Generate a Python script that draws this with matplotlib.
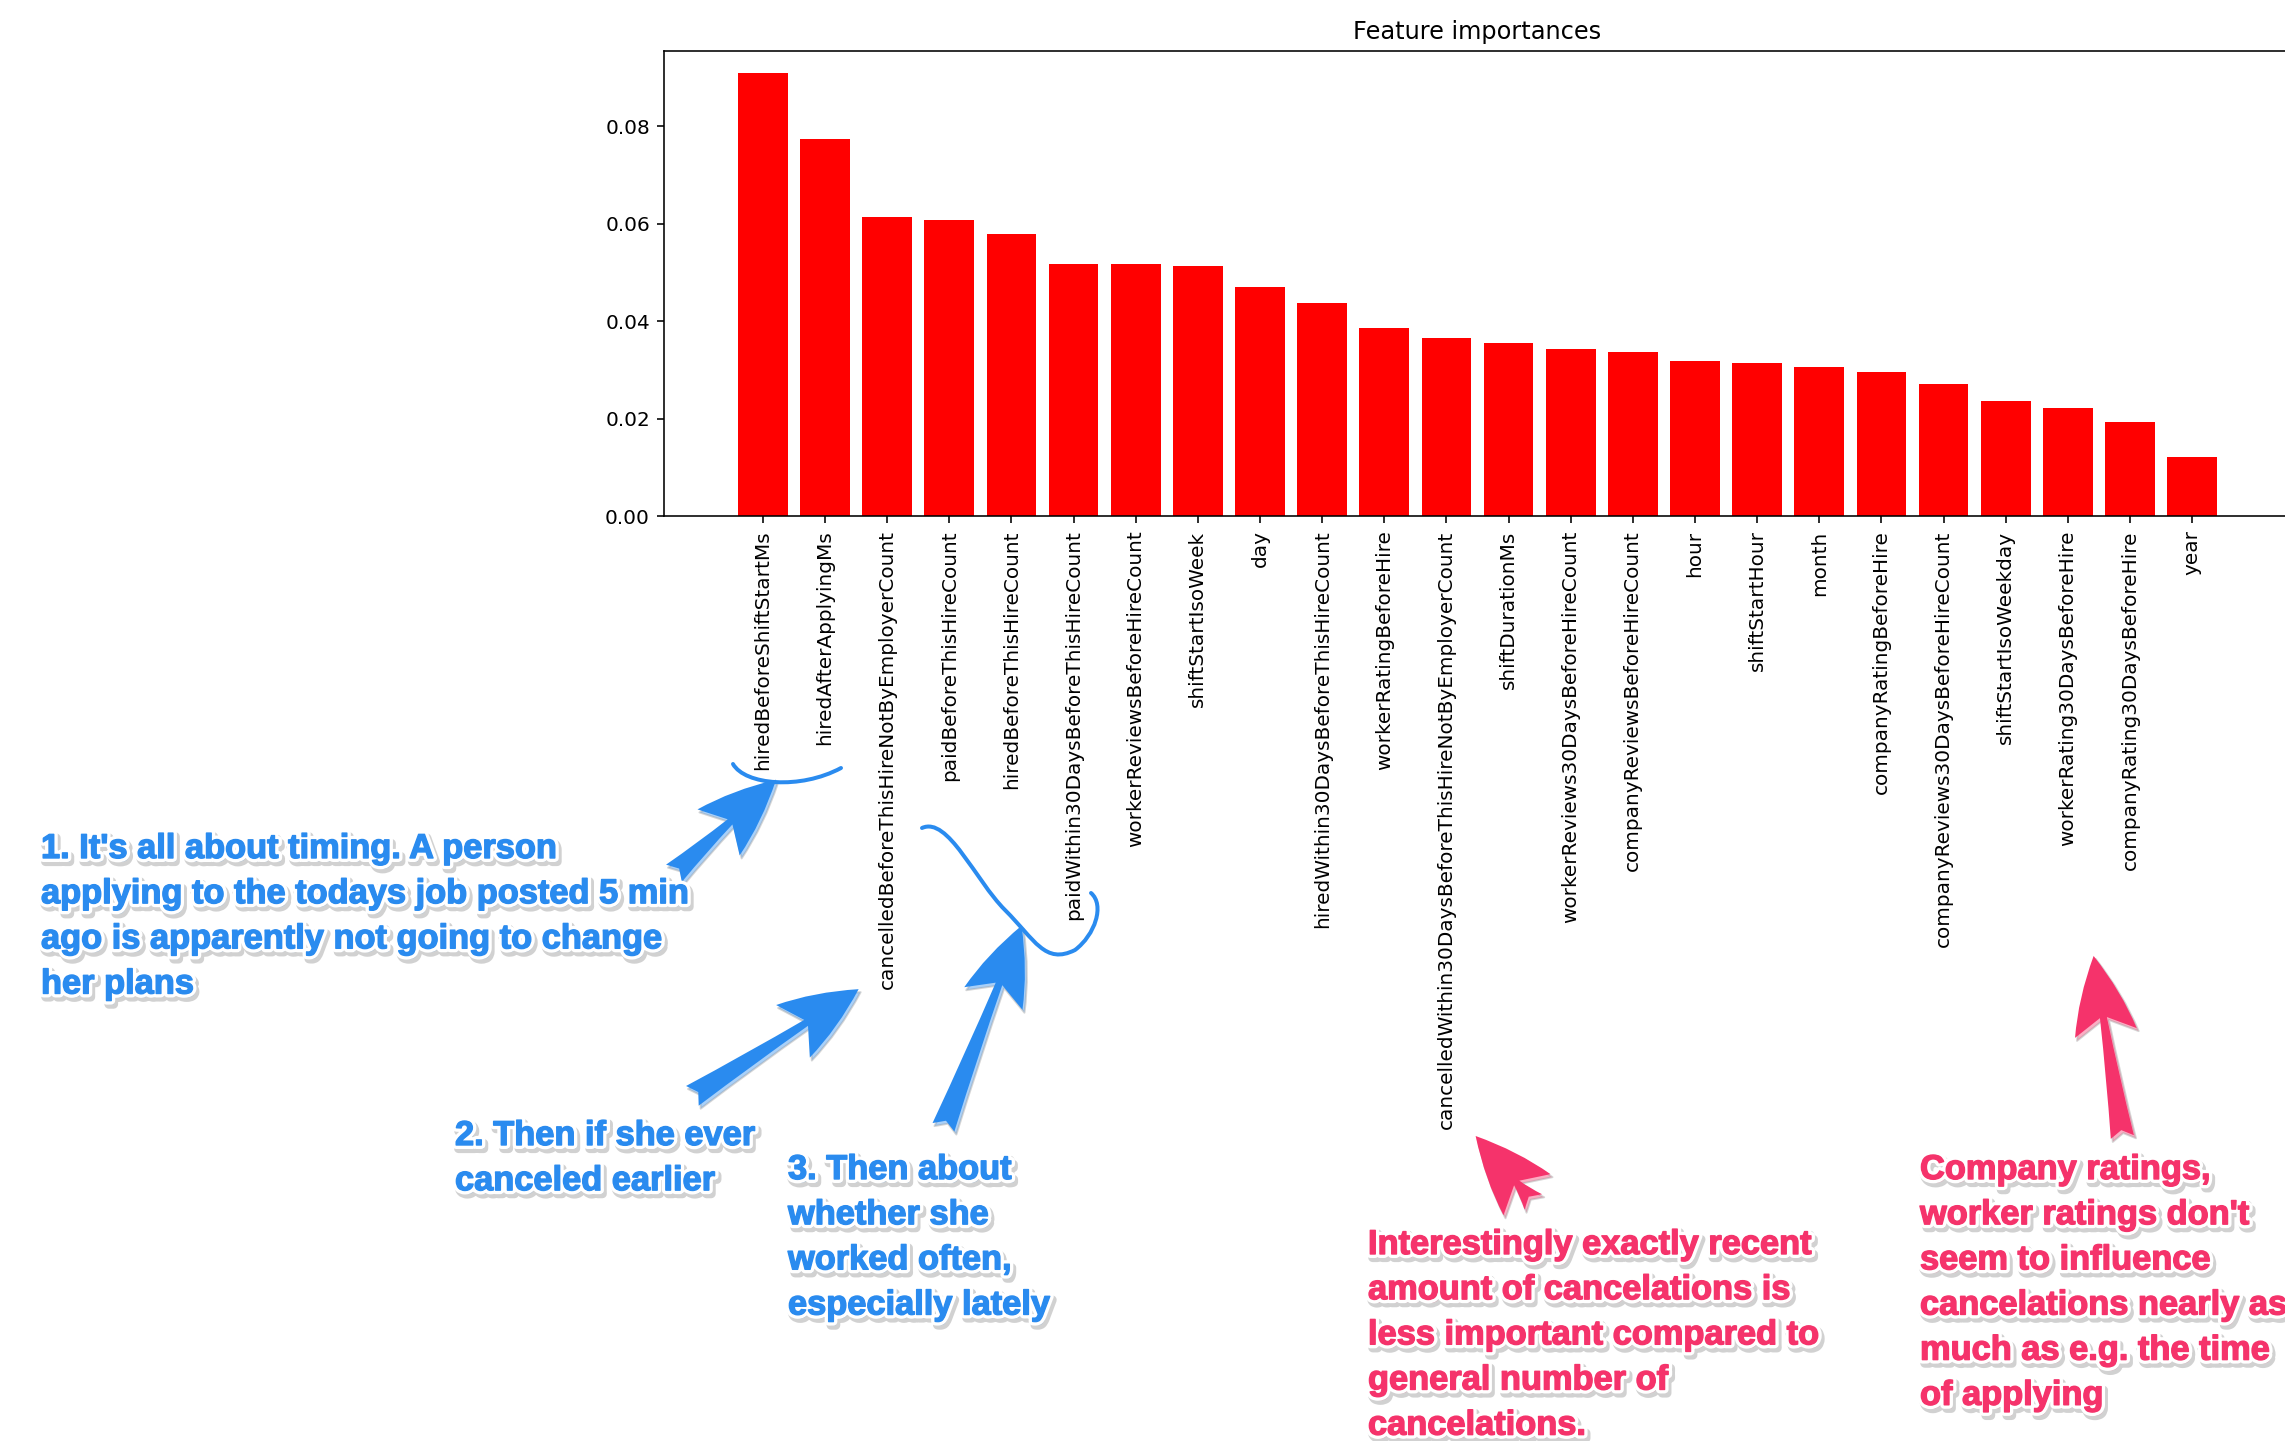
import numpy as np
import matplotlib
matplotlib.use("Agg")
import matplotlib.pyplot as plt
import matplotlib.patheffects as pe
from matplotlib.patches import FancyArrowPatch, PathPatch
from matplotlib.path import Path

# feature importances, sorted as in the chart
features = ["hiredBeforeShiftStartMs", "hiredAfterApplyingMs",
            "cancelledBeforeThisHireNotByEmployerCount", "paidBeforeThisHireCount",
            "hiredBeforeThisHireCount", "paidWithin30DaysBeforeThisHireCount",
            "workerReviewsBeforeHireCount", "shiftStartIsoWeek", "day",
            "hiredWithin30DaysBeforeThisHireCount", "workerRatingBeforeHire",
            "cancelledWithin30DaysBeforeThisHireNotByEmployerCount", "shiftDurationMs",
            "workerReviews30DaysBeforeHireCount", "companyReviewsBeforeHireCount",
            "hour", "shiftStartHour", "month", "companyRatingBeforeHire",
            "companyReviews30DaysBeforeHireCount", "shiftStartIsoWeekday",
            "workerRating30DaysBeforeHire", "companyRating30DaysBeforeHire", "year"]
importances = [0.0910, 0.0774, 0.0614, 0.0609, 0.0580, 0.0517, 0.0517, 0.0514,
               0.0471, 0.0437, 0.0387, 0.0367, 0.0355, 0.0343, 0.0337, 0.0319,
               0.0314, 0.0307, 0.0296, 0.0272, 0.0237, 0.0222, 0.0193, 0.0122]

W, H, DPI = 2285, 1441, 144
BLUE = "#2a8bef"
PINK = "#f5336b"


def fx(px):
    return px / W


def fy(py):
    return 1 - py / H


fig = plt.figure(figsize=(W / DPI, H / DPI), dpi=DPI)
ax = fig.add_axes([fx(664), fy(516.5), (2291 - 664) / W, (516.5 - 50.6) / H])
ax.set_title("Feature importances")
ax.bar(range(len(features)), importances, color="r", align="center")
ax.set_xticks(range(len(features)))
ax.set_xticklabels(features, rotation=90)


# annotation text, white outline with soft shadow
def note(x, y, s, color):
    text_fx = [pe.Stroke(linewidth=4.5, foreground="#9a9a9a", alpha=0.45, offset=(1.2, -1.8)),
               pe.Stroke(linewidth=4, foreground="white"),
               pe.Stroke(linewidth=0.7, foreground=color), pe.Normal()]
    fig.text(fx(x), fy(y), s, color=color, fontsize=17.2, fontweight="bold",
             family=["Liberation Sans", "DejaVu Sans"], va="top", ha="left",
             linespacing=1.59, path_effects=text_fx)


note(41, 834, "1. It's all about timing. A person\napplying to the todays job posted 5 min\n"
     "ago is apparently not going to change\nher plans", BLUE)
note(455, 1121, "2. Then if she ever\ncanceled earlier", BLUE)
note(788, 1155, "3. Then about\nwhether she\nworked often,\nespecially lately", BLUE)
note(1368, 1230, "Interestingly exactly recent\namount of cancelations is\n"
     "less important compared to\ngeneral number of\ncancelations.", PINK)
note(1920, 1155, "Company ratings,\nworker ratings don't\nseem to influence\n"
     "cancelations nearly as\nmuch as e.g. the time\nof applying", PINK)

arrow_fx = [pe.Stroke(linewidth=1, foreground="#9a9a9a", alpha=0.4, offset=(1, -1.5)),
            pe.Normal()]


def arrow(tail, head, color):
    a = FancyArrowPatch((fx(tail[0]), fy(tail[1])), (fx(head[0]), fy(head[1])),
                        transform=fig.transFigure, color=color, lw=0,
                        arrowstyle="fancy,head_length=1.5,head_width=1.2,tail_width=0.45",
                        mutation_scale=26, path_effects=arrow_fx)
    fig.add_artist(a)


arrow((671, 876), (779, 777), BLUE)
arrow((689, 1098), (862, 987), BLUE)
arrow((942, 1131), (1023, 922), BLUE)
arrow((1536, 1205), (1473, 1133), PINK)
arrow((2123, 1141), (2093, 952), PINK)


# hand drawn brackets
def curve(pts):
    verts = [(fx(x), fy(y)) for x, y in pts]
    codes = [Path.MOVETO] + [Path.CURVE4] * (len(verts) - 1)
    p = PathPatch(Path(verts, codes), transform=fig.transFigure, fill=False,
                  edgecolor=BLUE, lw=2.0, capstyle="round")
    fig.add_artist(p)


curve([(733, 764), (745, 785), (800, 790), (841, 768)])
curve([(922, 828), (948, 816), (975, 880), (1005, 910),
       (1035, 940), (1045, 965), (1075, 950),
       (1095, 935), (1105, 905), (1091, 893)])

fig.savefig("out.png", dpi=DPI)
